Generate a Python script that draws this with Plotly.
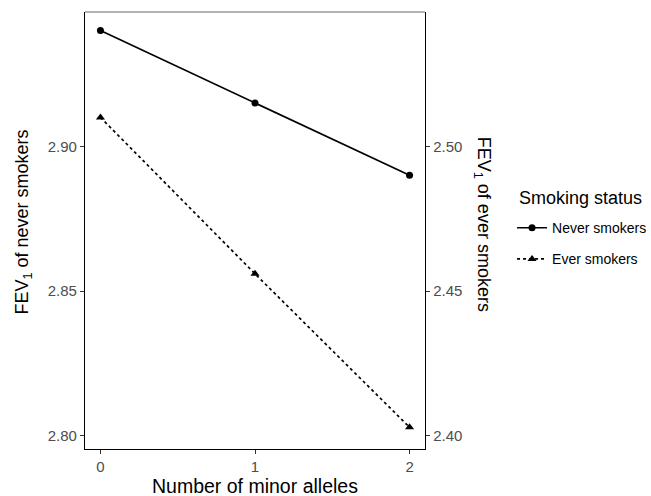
import plotly.graph_objects as go

alleles = [0, 1, 2]
never_smokers = [2.940, 2.915, 2.890]
ever_smokers = [2.510, 2.456, 2.403]

left_ticks = [2.80, 2.85, 2.90]
right_ticks = [2.40, 2.45, 2.50]
x_ticks = [0, 1, 2]

FONT = "Liberation Sans, Arial, sans-serif"

fig = go.Figure()
fig.add_trace(go.Scatter(
    x=alleles, y=never_smokers, name="Never smokers", mode="lines+markers",
    line=dict(color="black", width=1.7),
    marker=dict(symbol="circle", size=7, color="black"),
    yaxis="y", legendgroup="never",
))
fig.add_trace(go.Scatter(
    x=alleles, y=ever_smokers, name="Ever smokers", mode="lines+markers",
    line=dict(color="black", width=1.7, dash="3px,3px"),
    marker=dict(symbol="triangle-up", size=8, color="black"),
    yaxis="y2", legendgroup="ever",
))

lo, hi = 2.7955, 2.9464
offset = 0.4

axis_common = dict(
    showgrid=False, zeroline=False, showline=True, linecolor="black", linewidth=1.3,
    ticks="outside", ticklen=4, tickcolor="#333333", tickwidth=1,
    tickfont=dict(family=FONT, size=15, color="#4d4d4d"),
)

fig.update_layout(
    width=651, height=496,
    margin=dict(l=85, r=226, t=12, b=47, autoexpand=False),
    plot_bgcolor="white", paper_bgcolor="white",
    font=dict(family=FONT, color="black"),
    xaxis=dict(range=[-0.1, 2.1], tickvals=x_ticks, ticktext=[str(v) for v in x_ticks], **axis_common),
    yaxis=dict(range=[lo, hi], tickvals=left_ticks, ticktext=[f"{v:.2f}" for v in left_ticks], **axis_common),
    yaxis2=dict(range=[lo - offset, hi - offset], tickvals=right_ticks,
                ticktext=[f"{v:.2f}" for v in right_ticks], overlaying="y", side="right", **axis_common),
    showlegend=True,
    legend=dict(
        x=1.256, y=0.542, xanchor="left", yanchor="top",
        font=dict(family=FONT, size=14, color="black"),
        itemwidth=30, tracegroupgap=10,
    ),
    shapes=[dict(type="line", xref="paper", yref="paper", x0=0, x1=1, y0=1, y1=1,
                 line=dict(color="#666666", width=1))],
    annotations=[
        dict(text="Smoking status", xref="paper", yref="paper", x=1.27, y=0.574,
             xanchor="left", yanchor="middle", showarrow=False,
             font=dict(family=FONT, size=18, color="black")),
        dict(text="Number of minor alleles", xref="paper", yref="paper", x=0.5, y=-0.085,
             xanchor="center", yanchor="middle", showarrow=False,
             font=dict(family=FONT, size=19.5, color="black")),
        dict(text="FEV<sub>1</sub> of never smokers", xref="paper", yref="paper", x=-0.18, y=0.52,
             xanchor="center", yanchor="middle", showarrow=False, textangle=-90,
             font=dict(family=FONT, size=18, color="black")),
        dict(text="FEV<sub>1</sub> of ever smokers", xref="paper", yref="paper", x=1.168, y=0.515,
             xanchor="center", yanchor="middle", showarrow=False, textangle=90,
             font=dict(family=FONT, size=18, color="black")),
    ],
)

fig.write_html("out.html")
